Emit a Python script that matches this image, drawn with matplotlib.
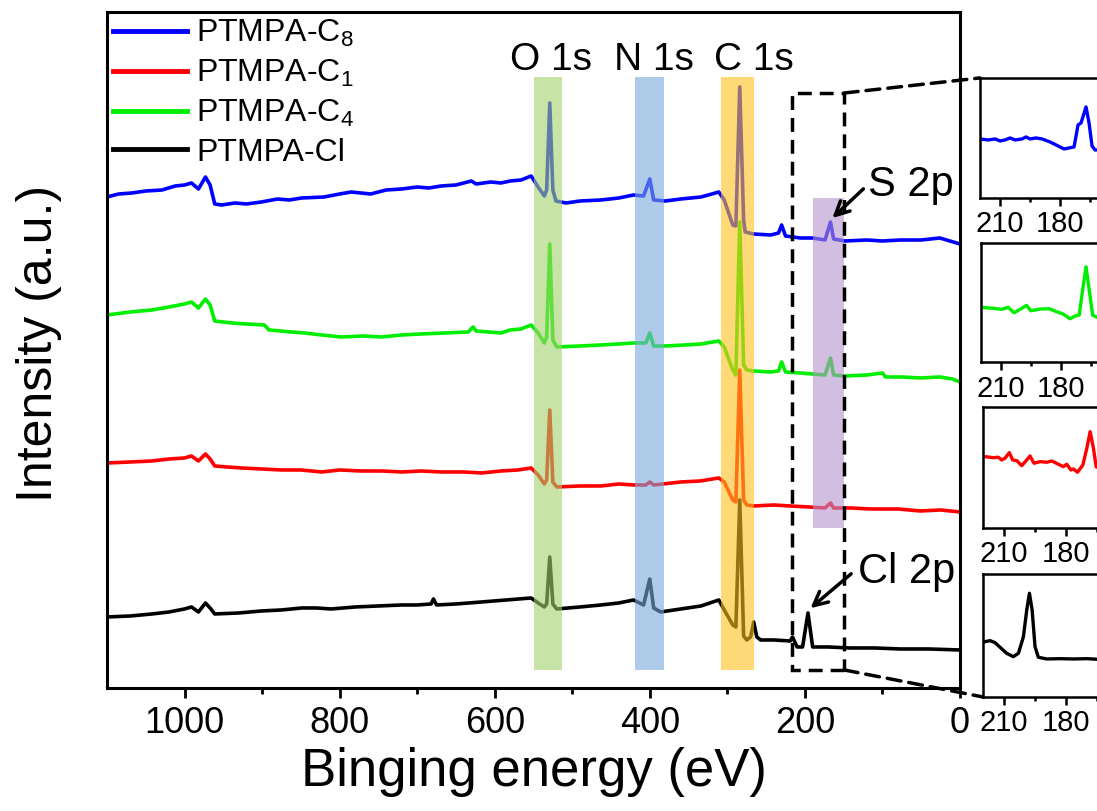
import numpy as np
import matplotlib.pyplot as plt
from matplotlib.patches import Rectangle, ConnectionPatch

plt.rcParams['font.family'] = ['Liberation Sans', 'DejaVu Sans']
plt.rcParams['mathtext.fontset'] = 'custom'
plt.rcParams['mathtext.rm'] = 'Liberation Sans'
plt.rcParams['mathtext.it'] = 'Liberation Sans'

# survey spectra, (binding energy eV, intensity a.u.)
c8_pts = np.array([
    [1100, 491], [1085, 494], [1068, 495], [1050, 497], [1029, 498], [1012, 502],
    [1000, 503], [991, 505], [982, 499], [973, 511], [967, 503], [961, 484],
    [952, 483], [935, 485], [920, 484], [901, 486], [880, 489], [865, 488],
    [849, 490], [820, 491], [800, 494], [785, 496], [760, 494], [740, 498],
    [720, 499], [700, 501], [685, 500], [669, 502], [650, 503], [630, 507],
    [624, 504], [605, 506], [592, 505], [580, 507], [566, 508], [553, 512],
    [544, 501], [536, 492], [533, 498], [529, 585], [525, 498], [521, 487],
    [508, 485], [490, 487], [463, 488], [440, 490], [421, 493], [408, 492],
    [400, 509], [395, 488], [380, 487], [360, 489], [334, 491], [320, 494],
    [311, 496], [304, 488], [293, 463], [289, 462], [284, 601], [279, 468],
    [277, 456], [266, 454], [244, 453], [234, 455], [230, 463], [225, 452],
    [206, 450], [190, 450], [174, 448], [167, 466], [163, 449], [148, 447],
    [120, 448], [100, 447], [77, 448], [50, 448], [26, 450], [13, 447], [0, 444]])

c1_pts = np.array([
    [1100, 225], [1070, 226], [1042, 227], [1020, 229], [1000, 230], [991, 232],
    [982, 227], [973, 234], [967, 229], [961, 222], [945, 221], [926, 220],
    [900, 219], [875, 218], [850, 218], [823, 216], [800, 218], [772, 217],
    [745, 217], [720, 216], [695, 217], [669, 216], [640, 216], [617, 215],
    [592, 217], [570, 218], [553, 220], [544, 213], [536, 204], [533, 208],
    [529, 278], [525, 206], [520, 201], [490, 202], [463, 202], [440, 204],
    [421, 203], [405, 203], [400, 206], [395, 203], [360, 206], [335, 207],
    [311, 210], [304, 206], [293, 188], [289, 186], [284, 318], [279, 188],
    [275, 183], [266, 182], [240, 183], [219, 182], [195, 181], [174, 180],
    [167, 185], [163, 180], [140, 180], [116, 179], [80, 179], [51, 177],
    [25, 178], [0, 176]])

c4_pts = np.array([
    [1100, 373], [1070, 376], [1042, 378], [1020, 381], [1000, 384], [991, 386],
    [982, 380], [973, 389], [967, 383], [961, 367], [939, 365], [920, 364],
    [897, 363], [891, 358], [862, 356], [845, 355], [823, 353], [798, 351],
    [770, 352], [746, 351], [720, 353], [695, 354], [665, 355], [634, 356],
    [628, 361], [624, 357], [592, 355], [580, 358], [566, 359], [553, 363],
    [544, 355], [536, 345], [533, 351], [529, 444], [525, 348], [520, 341],
    [490, 342], [463, 343], [440, 344], [421, 345], [405, 345], [400, 355],
    [395, 342], [380, 342], [355, 343], [334, 344], [311, 347], [304, 341],
    [293, 318], [289, 313], [284, 466], [279, 323], [275, 318], [266, 317],
    [244, 316], [234, 317], [230, 326], [225, 316], [206, 315], [190, 314],
    [174, 313], [167, 330], [163, 313], [148, 312], [120, 313], [100, 315],
    [96, 311], [75, 311], [51, 310], [26, 311], [10, 309], [0, 306]])

cl_pts = np.array([
    [1100, 71], [1070, 72], [1042, 74], [1020, 76], [1000, 79], [991, 81],
    [982, 76], [973, 85], [967, 80], [961, 74], [930, 75], [901, 77],
    [875, 78], [849, 80], [830, 80], [811, 79], [780, 81], [750, 82],
    [720, 83], [700, 83], [682, 84], [679, 89], [675, 83], [650, 84],
    [617, 86], [585, 88], [553, 90], [544, 85], [536, 81], [533, 84],
    [529, 131], [525, 84], [520, 79], [490, 81], [463, 83], [440, 85],
    [421, 88], [408, 83], [400, 109], [395, 80], [386, 76], [360, 79],
    [334, 82], [311, 88], [304, 78], [293, 63], [289, 61], [284, 188],
    [279, 52], [275, 48], [270, 51], [266, 66], [262, 51], [257, 48],
    [240, 48], [219, 47], [216, 51], [210, 41], [203, 41], [196, 75],
    [190, 41], [170, 41], [142, 40], [110, 40], [77, 39], [40, 39], [0, 38]])

# high resolution windows (220-150 eV)
c8_zoom = np.array([
    [220, 59], [216, 58], [212.5, 59], [210, 57], [207.5, 58], [205, 60],
    [202.5, 58], [199, 59], [197, 61], [195, 59], [192, 60], [189, 59],
    [185, 56], [181, 52], [178, 49], [175.5, 50], [173, 51], [171, 73],
    [169.5, 75], [167, 91], [165.5, 75], [164, 52], [162.5, 48], [160, 48],
    [150, 48]])
c4_zoom = np.array([
    [219.7, 54.7], [213.9, 53.7], [209.7, 52.7], [206.4, 54.7], [203.5, 49.3],
    [200.5, 52.7], [197.2, 56.7], [195.2, 51.3], [190.5, 53], [185.9, 53.3],
    [182.2, 50.3], [178.9, 48], [175.5, 43.3], [173, 46], [170.9, 47],
    [169.2, 72], [167.5, 95.3], [165.9, 72], [164.2, 47], [162, 44.7], [150, 44]])
c1_zoom = np.array([
    [219, 71.3], [215, 70.3], [212.6, 70.7], [211, 68], [209.4, 69.7],
    [207.3, 75.3], [205.7, 68], [203.7, 67.3], [201.3, 62.3], [198.9, 68],
    [197.3, 72], [195.4, 64.7], [192.5, 66.3], [189.2, 65.7], [186.8, 67],
    [183.6, 63.7], [181.2, 61.3], [179.6, 63.7], [177.6, 58], [176.4, 59],
    [174.4, 55.7], [171.8, 63], [169.9, 79.7], [168.3, 96.3], [166.7, 79.7],
    [165.4, 61.3], [162, 58], [150, 58]])
cl_zoom = np.array([
    [219, 55.3], [216.6, 56.3], [214.2, 54.3], [211.8, 49.7], [208.6, 43.7],
    [205.4, 40.3], [202.9, 43.7], [200.5, 60.3], [198.9, 87], [197.6, 103.7],
    [196.3, 87], [194.9, 50.3], [193.3, 39.7], [189.2, 38], [182.8, 38.3],
    [176.4, 38], [169.9, 38.3], [164.9, 37.7], [150, 38]])

labels = ['PTMPA-C$_8$', 'PTMPA-C$_1$', 'PTMPA-C$_4$', 'PTMPA-Cl']
colors = ['#0000ff', '#ff0000', '#00ee00', '#000000']

# highlighted regions: (high BE, low BE, ymin, ymax, colour)
bands = [(549.3, 513.3, 0.027, 0.904, '#a3d26b'),
         (419.4, 382.1, 0.027, 0.904, '#78aadc'),
         (308.8, 265.0, 0.027, 0.904, '#ffc01e'),
         (189.1, 149.2, 0.237, 0.725, '#b493cd')]
peak_names = ['O 1s', 'N 1s', 'C 1s']
peak_pos = [527, 395, 266]

fig = plt.figure(figsize=(10.97, 8.11), dpi=100)
ax = fig.add_axes([0.0975, 0.1517, 0.7776, 0.8335])

for pts, c, lab in zip([c8_pts, c1_pts, c4_pts, cl_pts], colors, labels):
    ax.plot(pts[:, 0], pts[:, 1], color=c, lw=2.6, label=lab)

for hi, lo, y0, y1, c in bands:
    ax.axvspan(hi, lo, ymin=y0, ymax=y1, color=c, alpha=0.6, lw=0, zorder=3)

for name, x in zip(peak_names, peak_pos):
    ax.text(x, 628, name, ha='center', va='center', fontsize=28)

ax.add_patch(Rectangle((149.2, 18), 66.9, 577, fill=False, lw=2.5,
                       ls=(0, (4, 2.3)), zorder=4))

ax.annotate('', xy=(167.2, 468), xytext=(122, 501),
            arrowprops=dict(arrowstyle='->', lw=2.5, color='k', mutation_scale=25))
ax.text(118, 503, 'S 2p', ha='left', va='center', fontsize=30)
ax.annotate('', xy=(195.5, 78), xytext=(137.6, 116),
            arrowprops=dict(arrowstyle='->', lw=2.5, color='k', mutation_scale=25))
ax.text(132, 116, 'Cl 2p', ha='left', va='center', fontsize=30)

ax.set_xlim(1100, 0)
ax.set_ylim(0, 676)
ax.set_xticks(np.arange(0, 1001, 200))
ax.set_xticks(np.arange(100, 1100, 200), minor=True)
ax.set_yticks([])
ax.tick_params(axis='x', which='major', direction='out', length=7, width=2,
               labelsize=26, pad=6)
ax.tick_params(axis='x', which='minor', direction='out', length=4, width=2)
for s in ax.spines.values():
    s.set_linewidth(2.2)
ax.set_xlabel('Binging energy (eV)', fontsize=38, labelpad=4)
ax.set_ylabel('Intensity (a.u.)', fontsize=36)
ax.yaxis.set_label_coords(-0.053, 0.51)

leg = ax.legend(loc='upper left', bbox_to_anchor=(0, 1), frameon=False,
                fontsize=23, handlelength=2.3, handletextpad=0.3,
                labelspacing=0.27, borderaxespad=0.1, borderpad=0.1)
for ln in leg.get_lines():
    ln.set_linewidth(3.5)

# insets, top to bottom: C8, C4, C1, Cl
inset_rects = [[0.8934, 0.7559, 0.1276, 0.1480],
               [0.8943, 0.5536, 0.1276, 0.1467],
               [0.8961, 0.3490, 0.1322, 0.1492],
               [0.8961, 0.1406, 0.1322, 0.1517]]
inset_data = [c8_zoom, c4_zoom, c1_zoom, cl_zoom]
inset_colors = ['#0000ff', '#00ee00', '#ff0000', '#000000']
inset_h = [120, 119, 121, 123]
insets = []
for rect, d, c, h in zip(inset_rects, inset_data, inset_colors, inset_h):
    iax = fig.add_axes(rect)
    iax.plot(d[:, 0], d[:, 1], color=c, lw=2.4)
    iax.set_xlim(220, 150)
    iax.set_ylim(0, h)
    iax.set_yticks([])
    iax.set_xticks([210, 180])
    iax.set_xticks([195, 165], minor=True)
    iax.tick_params(axis='x', which='major', length=6, width=1.8, labelsize=21, pad=3)
    iax.tick_params(axis='x', which='minor', length=3, width=1.8)
    for s in iax.spines.values():
        s.set_linewidth(1.8)
    insets.append(iax)

for xyA, xyB, iax in [((149.2, 595), (0, 1), insets[0]),
                      ((149.2, 18), (0, 0), insets[3])]:
    con = ConnectionPatch(xyA=xyA, coordsA=ax.transData, xyB=xyB,
                          coordsB=iax.transAxes, lw=2.5, ls=(0, (4, 2.3)), color='k')
    fig.add_artist(con)

fig.savefig('out.png', dpi=100)
